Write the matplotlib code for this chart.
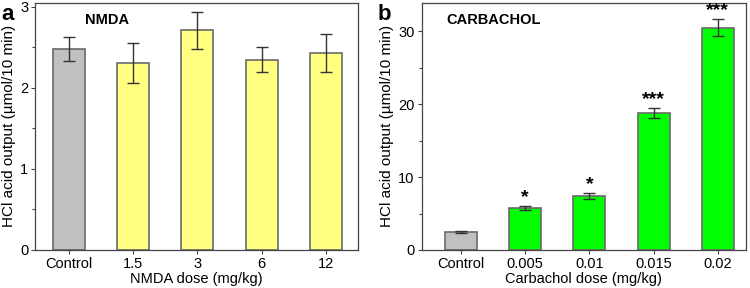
import numpy as np
import matplotlib.pyplot as plt
from matplotlib.ticker import MultipleLocator

plt.rcParams['font.family'] = ['Liberation Sans', 'DejaVu Sans']
plt.rcParams['font.size'] = 10.5

# Panel a: NMDA
nmda_labels = ['Control', '1.5', '3', '6', '12']
nmda_vals = [2.48, 2.31, 2.71, 2.35, 2.43]
nmda_err = [0.15, 0.245, 0.23, 0.155, 0.23]

# Panel b: carbachol
carb_labels = ['Control', '0.005', '0.01', '0.015', '0.02']
carb_vals = [2.45, 5.75, 7.4, 18.75, 30.5]
carb_err = [0.15, 0.3, 0.4, 0.7, 1.2]
carb_stars = ['', '*', '*', '***', '***']

gray = '#c0c0c0'
edge = '#6a6a6a'

fig = plt.figure(figsize=(7.5, 2.88), dpi=100)
ax1 = fig.add_axes([0.047, 0.132, 0.430, 0.858])
ax2 = fig.add_axes([0.562, 0.132, 0.432, 0.858])


def draw(ax, labels, vals, err, col):
    x = np.arange(len(vals))
    colors = [gray] + [col] * (len(vals) - 1)
    ax.bar(x, vals, width=0.5, color=colors, edgecolor=edge, linewidth=1.2, zorder=2)
    ax.errorbar(x, vals, yerr=err, fmt='none', ecolor='#333333', elinewidth=1,
                capsize=4, capthick=1, zorder=3)
    ax.set_xticks(x)
    ax.set_xticklabels(labels)
    ax.tick_params(axis='both', direction='out', length=3, width=0.8, colors='#444444',
                   labelcolor='black', pad=2)
    ax.tick_params(axis='y', which='minor', direction='out', length=2, width=0.8, colors='#444444')
    for s in ax.spines.values():
        s.set_color('#444444')
        s.set_linewidth(0.9)
    return x


draw(ax1, nmda_labels, nmda_vals, nmda_err, '#ffff80')
ax1.set_xlim(-0.53, 4.5)
ax1.set_ylim(0, 3.05)
ax1.yaxis.set_major_locator(MultipleLocator(1))
ax1.yaxis.set_minor_locator(MultipleLocator(0.5))
ax1.set_xlabel('NMDA dose (mg/kg)', labelpad=1)
ax1.set_ylabel('HCl acid output (µmol/10 min)', labelpad=3, fontsize=11)
ax1.text(0.155, 0.93, 'NMDA', transform=ax1.transAxes, fontweight='bold',
         fontsize=10.5, va='center')

x2 = draw(ax2, carb_labels, carb_vals, carb_err, '#00ff00')
ax2.set_xlim(-0.61, 4.43)
ax2.set_ylim(0, 33.9)
ax2.yaxis.set_major_locator(MultipleLocator(10))
ax2.yaxis.set_minor_locator(MultipleLocator(5))
ax2.set_xlabel('Carbachol dose (mg/kg)', labelpad=1)
ax2.set_ylabel('HCl acid output (µmol/10 min)', labelpad=3, fontsize=11)
ax2.text(0.078, 0.93, 'CARBACHOL', transform=ax2.transAxes, fontweight='bold',
         fontsize=10.5, va='center')
for xi, v, e, s in zip(x2, carb_vals, carb_err, carb_stars):
    if s:
        ax2.text(xi, v + e + 0.5, s, ha='center', va='baseline', fontsize=14, fontweight='bold')

fig.text(0.002, 0.985, 'a', fontsize=16, fontweight='bold', va='top')
fig.text(0.503, 0.985, 'b', fontsize=16, fontweight='bold', va='top')

fig.savefig('out.png', dpi=100)
